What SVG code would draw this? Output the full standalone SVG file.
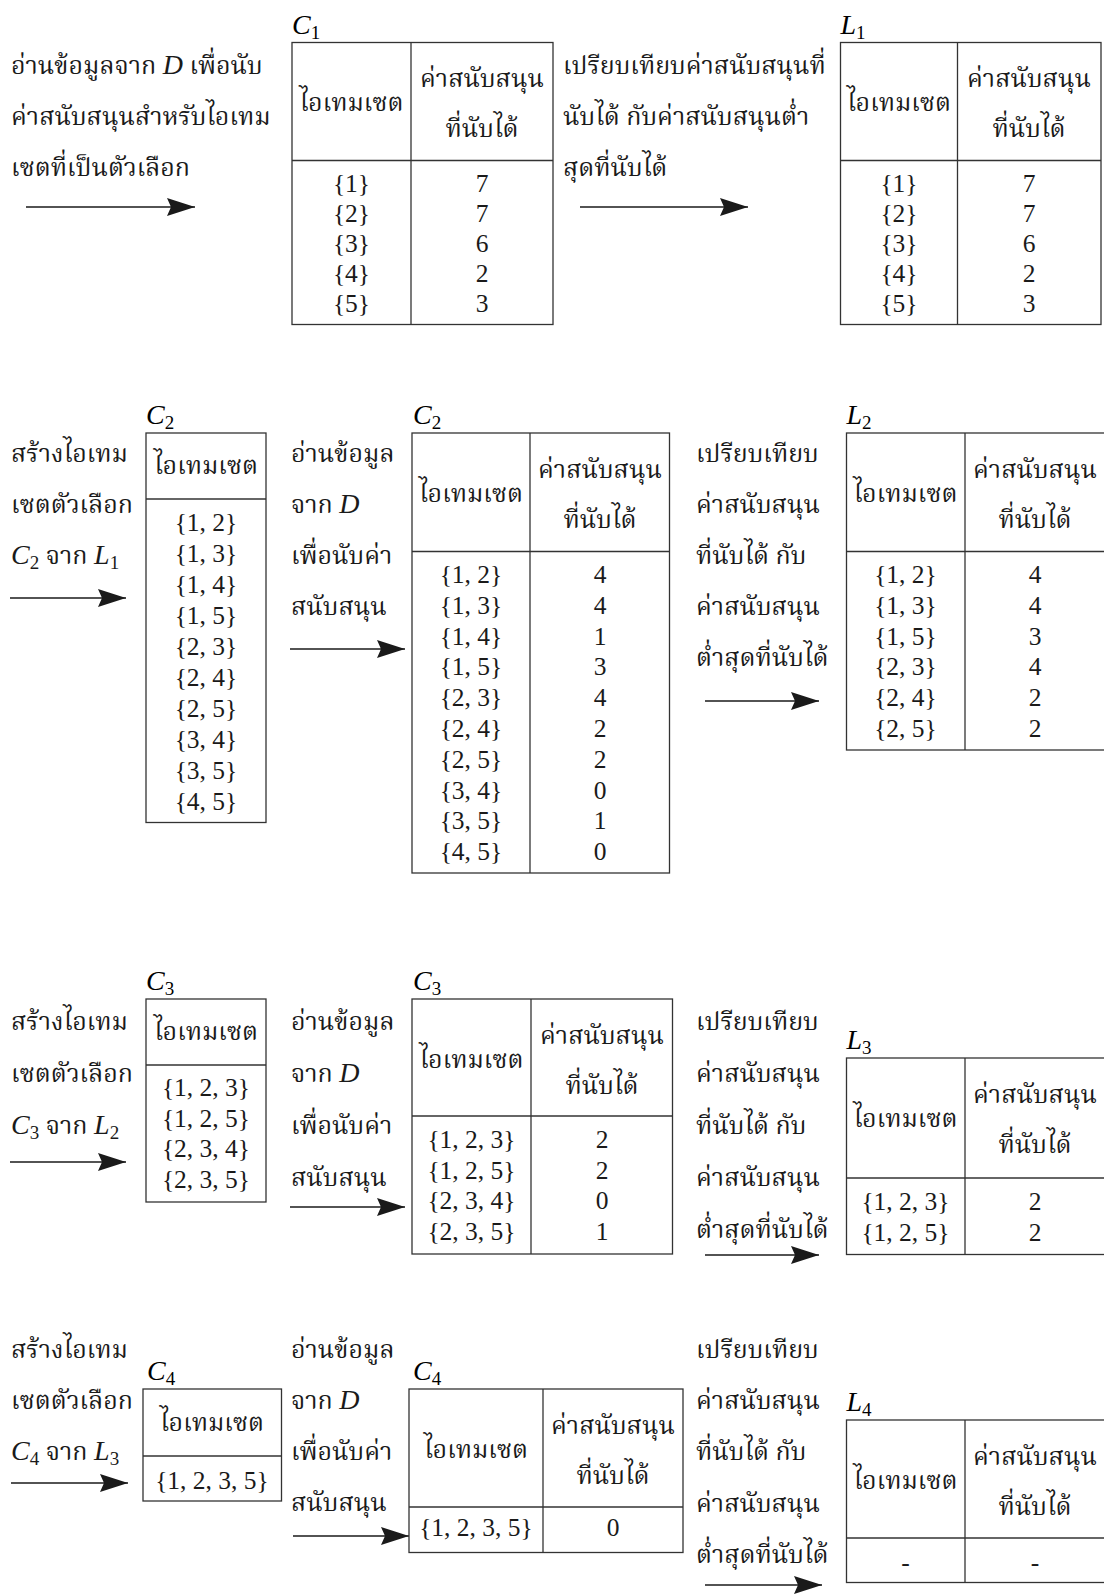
<svg xmlns="http://www.w3.org/2000/svg" width="1104" height="1596" viewBox="0 0 1104 1596">
  <style>
    .th { font-family: "Laksaman", "Norasi", "Noto Serif Thai", "Noto Sans Thai Looped", "Noto Sans Thai", "Noto Sans", sans-serif; font-size: 25px; fill: #1a1a1a; }
    .num { font-family: "Liberation Serif", "Times New Roman", serif; font-size: 25.5px; fill: #1a1a1a; }
    .it { font-family: "Liberation Serif", "Times New Roman", serif; font-style: italic; font-size: 28px; }
    .sub { font-family: "Liberation Serif", "Times New Roman", serif; font-style: normal; font-size: 19px; }
    .mid { text-anchor: middle; }
    .box { fill: #fff; stroke: #333; stroke-width: 1.3; }
    .rule { stroke: #333; stroke-width: 1.3; }
    .arrow { stroke: #1a1a1a; stroke-width: 1.3; fill: none; marker-end: url(#head); }
  </style>
  <defs>
    <marker id="head" markerUnits="userSpaceOnUse" markerWidth="29" markerHeight="19" refX="28" refY="9" orient="auto">
      <path d="M0,0 L28,9 L0,18 L4,9 Z" fill="#1a1a1a"/>
    </marker>
  </defs>

  <rect width="1104" height="1596" fill="#fff"/>

  <!-- connectors -->
  <g id="connectors">
    <line class="arrow" x1="26" y1="207" x2="195" y2="207"/>
    <line class="arrow" x1="580" y1="207" x2="748" y2="207"/>
    <line class="arrow" x1="10" y1="598" x2="126" y2="598"/>
    <line class="arrow" x1="290" y1="649" x2="405" y2="649"/>
    <line class="arrow" x1="705" y1="701" x2="819" y2="701"/>
    <line class="arrow" x1="10" y1="1162" x2="126" y2="1162"/>
    <line class="arrow" x1="290" y1="1207" x2="405" y2="1207"/>
    <line class="arrow" x1="705" y1="1255" x2="819" y2="1255"/>
    <line class="arrow" x1="11" y1="1483" x2="128" y2="1483"/>
    <line class="arrow" x1="293" y1="1536" x2="409" y2="1536"/>
    <line class="arrow" x1="705" y1="1585" x2="822" y2="1585"/>
  </g>

  <!-- step captions -->
  <g id="step-read-1" class="th">
    <text x="11" y="74">อ่านข้อมูลจาก <tspan class="it" font-size="25">D</tspan> เพื่อนับ</text>
    <text x="11" y="125">ค่าสนับสนุนสำหรับไอเทม</text>
    <text x="11" y="176">เซตที่เป็นตัวเลือก</text>
  </g>
  <g id="step-compare-1" class="th">
    <text x="563" y="74">เปรียบเทียบค่าสนับสนุนที่</text>
    <text x="563" y="125">นับได้ กับค่าสนับสนุนต่ำ</text>
    <text x="563" y="176">สุดที่นับได้</text>
  </g>

  <g id="step-gen-2" class="th">
    <text x="11" y="462">สร้างไอเทม</text>
    <text x="11" y="513">เซตตัวเลือก</text>
    <text x="11" y="564"><tspan class="it">C</tspan><tspan class="sub" dy="5">2</tspan><tspan dy="-5"> จาก </tspan><tspan class="it">L</tspan><tspan class="sub" dy="5">1</tspan></text>
  </g>
  <g id="step-read-2" class="th">
    <text x="291" y="462">อ่านข้อมูล</text>
    <text x="291" y="513">จาก <tspan class="it" font-size="25">D</tspan></text>
    <text x="291" y="564">เพื่อนับค่า</text>
    <text x="291" y="615">สนับสนุน</text>
  </g>
  <g id="step-compare-2" class="th">
    <text x="696" y="462">เปรียบเทียบ</text>
    <text x="696" y="513">ค่าสนับสนุน</text>
    <text x="696" y="564">ที่นับได้ กับ</text>
    <text x="696" y="615">ค่าสนับสนุน</text>
    <text x="696" y="666">ต่ำสุดที่นับได้</text>
  </g>

  <g id="step-gen-3" class="th">
    <text x="11" y="1030">สร้างไอเทม</text>
    <text x="11" y="1082">เซตตัวเลือก</text>
    <text x="11" y="1134"><tspan class="it">C</tspan><tspan class="sub" dy="5">3</tspan><tspan dy="-5"> จาก </tspan><tspan class="it">L</tspan><tspan class="sub" dy="5">2</tspan></text>
  </g>
  <g id="step-read-3" class="th">
    <text x="291" y="1030">อ่านข้อมูล</text>
    <text x="291" y="1082">จาก <tspan class="it" font-size="25">D</tspan></text>
    <text x="291" y="1134">เพื่อนับค่า</text>
    <text x="291" y="1186">สนับสนุน</text>
  </g>
  <g id="step-compare-3" class="th">
    <text x="696" y="1030">เปรียบเทียบ</text>
    <text x="696" y="1082">ค่าสนับสนุน</text>
    <text x="696" y="1134">ที่นับได้ กับ</text>
    <text x="696" y="1186">ค่าสนับสนุน</text>
    <text x="696" y="1238">ต่ำสุดที่นับได้</text>
  </g>

  <g id="step-gen-4" class="th">
    <text x="11" y="1358">สร้างไอเทม</text>
    <text x="11" y="1409">เซตตัวเลือก</text>
    <text x="11" y="1460"><tspan class="it">C</tspan><tspan class="sub" dy="5">4</tspan><tspan dy="-5"> จาก </tspan><tspan class="it">L</tspan><tspan class="sub" dy="5">3</tspan></text>
  </g>
  <g id="step-read-4" class="th">
    <text x="291" y="1358">อ่านข้อมูล</text>
    <text x="291" y="1409">จาก <tspan class="it" font-size="25">D</tspan></text>
    <text x="291" y="1460">เพื่อนับค่า</text>
    <text x="291" y="1511">สนับสนุน</text>
  </g>
  <g id="step-compare-4" class="th">
    <text x="696" y="1358">เปรียบเทียบ</text>
    <text x="696" y="1409">ค่าสนับสนุน</text>
    <text x="696" y="1460">ที่นับได้ กับ</text>
    <text x="696" y="1512">ค่าสนับสนุน</text>
    <text x="696" y="1563">ต่ำสุดที่นับได้</text>
  </g>

  <!-- C1 -->
  <g id="C1">
    <text x="292" y="33.5" class="it">C<tspan class="sub" dy="5">1</tspan></text>
    <rect class="box" x="292" y="42.5" width="261" height="282"/>
    <line class="rule" x1="292" y1="160.5" x2="553" y2="160.5"/>
    <line class="rule" x1="411" y1="42.5" x2="411" y2="324.5"/>
    <text class="th mid" x="351.5" y="111">ไอเทมเซต</text>
    <text class="th mid" x="482" y="87">ค่าสนับสนุน</text>
    <text class="th mid" x="482" y="137">ที่นับได้</text>
    <g class="num mid">
      <text x="351.5" y="191.5">{1}</text><text x="482" y="191.5">7</text>
      <text x="351.5" y="221.5">{2}</text><text x="482" y="221.5">7</text>
      <text x="351.5" y="251.5">{3}</text><text x="482" y="251.5">6</text>
      <text x="351.5" y="281.5">{4}</text><text x="482" y="281.5">2</text>
      <text x="351.5" y="311.5">{5}</text><text x="482" y="311.5">3</text>
    </g>
  </g>

  <!-- L1 -->
  <g id="L1">
    <text x="840.5" y="33.5" class="it">L<tspan class="sub" dy="5">1</tspan></text>
    <rect class="box" x="840.5" y="42.5" width="260.5" height="282"/>
    <line class="rule" x1="840.5" y1="160.5" x2="1101" y2="160.5"/>
    <line class="rule" x1="957.5" y1="42.5" x2="957.5" y2="324.5"/>
    <text class="th mid" x="899" y="111">ไอเทมเซต</text>
    <text class="th mid" x="1029" y="87">ค่าสนับสนุน</text>
    <text class="th mid" x="1029" y="137">ที่นับได้</text>
    <g class="num mid">
      <text x="899" y="191.5">{1}</text><text x="1029" y="191.5">7</text>
      <text x="899" y="221.5">{2}</text><text x="1029" y="221.5">7</text>
      <text x="899" y="251.5">{3}</text><text x="1029" y="251.5">6</text>
      <text x="899" y="281.5">{4}</text><text x="1029" y="281.5">2</text>
      <text x="899" y="311.5">{5}</text><text x="1029" y="311.5">3</text>
    </g>
  </g>

  <!-- C2 candidates -->
  <g id="C2-gen">
    <text x="146" y="424" class="it">C<tspan class="sub" dy="5">2</tspan></text>
    <rect class="box" x="146" y="433" width="120" height="389.5"/>
    <line class="rule" x1="146" y1="499" x2="266" y2="499"/>
    <text class="th mid" x="206" y="474">ไอเทมเซต</text>
    <g class="num mid">
      <text x="206" y="531">{1, 2}</text>
      <text x="206" y="562">{1, 3}</text>
      <text x="206" y="593">{1, 4}</text>
      <text x="206" y="624">{1, 5}</text>
      <text x="206" y="655">{2, 3}</text>
      <text x="206" y="686">{2, 4}</text>
      <text x="206" y="717">{2, 5}</text>
      <text x="206" y="748">{3, 4}</text>
      <text x="206" y="779">{3, 5}</text>
      <text x="206" y="810">{4, 5}</text>
    </g>
  </g>

  <!-- C2 counted -->
  <g id="C2-count">
    <text x="413" y="424" class="it">C<tspan class="sub" dy="5">2</tspan></text>
    <rect class="box" x="412" y="433" width="257.5" height="440"/>
    <line class="rule" x1="412" y1="551.5" x2="669.5" y2="551.5"/>
    <line class="rule" x1="530" y1="433" x2="530" y2="873"/>
    <text class="th mid" x="471" y="501.5">ไอเทมเซต</text>
    <text class="th mid" x="600" y="477.5">ค่าสนับสนุน</text>
    <text class="th mid" x="600" y="527.5">ที่นับได้</text>
    <g class="num mid">
      <text x="471" y="583">{1, 2}</text><text x="600" y="583">4</text>
      <text x="471" y="614">{1, 3}</text><text x="600" y="614">4</text>
      <text x="471" y="644.5">{1, 4}</text><text x="600" y="644.5">1</text>
      <text x="471" y="675">{1, 5}</text><text x="600" y="675">3</text>
      <text x="471" y="706">{2, 3}</text><text x="600" y="706">4</text>
      <text x="471" y="737">{2, 4}</text><text x="600" y="737">2</text>
      <text x="471" y="768">{2, 5}</text><text x="600" y="768">2</text>
      <text x="471" y="798.5">{3, 4}</text><text x="600" y="798.5">0</text>
      <text x="471" y="829">{3, 5}</text><text x="600" y="829">1</text>
      <text x="471" y="860">{4, 5}</text><text x="600" y="860">0</text>
    </g>
  </g>

  <!-- L2 -->
  <g id="L2">
    <text x="846.5" y="424" class="it">L<tspan class="sub" dy="5">2</tspan></text>
    <rect class="box" x="846.5" y="433" width="260" height="317"/>
    <line class="rule" x1="846.5" y1="551.5" x2="1106" y2="551.5"/>
    <line class="rule" x1="965" y1="433" x2="965" y2="750"/>
    <text class="th mid" x="905.5" y="501.5">ไอเทมเซต</text>
    <text class="th mid" x="1035" y="477.5">ค่าสนับสนุน</text>
    <text class="th mid" x="1035" y="527.5">ที่นับได้</text>
    <g class="num mid">
      <text x="905.5" y="583">{1, 2}</text><text x="1035" y="583">4</text>
      <text x="905.5" y="614">{1, 3}</text><text x="1035" y="614">4</text>
      <text x="905.5" y="644.5">{1, 5}</text><text x="1035" y="644.5">3</text>
      <text x="905.5" y="675">{2, 3}</text><text x="1035" y="675">4</text>
      <text x="905.5" y="706">{2, 4}</text><text x="1035" y="706">2</text>
      <text x="905.5" y="737">{2, 5}</text><text x="1035" y="737">2</text>
    </g>
  </g>

  <!-- C3 candidates -->
  <g id="C3-gen">
    <text x="146" y="990" class="it">C<tspan class="sub" dy="5">3</tspan></text>
    <rect class="box" x="146" y="999" width="120" height="203"/>
    <line class="rule" x1="146" y1="1065" x2="266" y2="1065"/>
    <text class="th mid" x="206" y="1040">ไอเทมเซต</text>
    <g class="num mid">
      <text x="206" y="1096">{1, 2, 3}</text>
      <text x="206" y="1126.5">{1, 2, 5}</text>
      <text x="206" y="1157">{2, 3, 4}</text>
      <text x="206" y="1188">{2, 3, 5}</text>
    </g>
  </g>

  <!-- C3 counted -->
  <g id="C3-count">
    <text x="413" y="990" class="it">C<tspan class="sub" dy="5">3</tspan></text>
    <rect class="box" x="412" y="999" width="260.5" height="255"/>
    <line class="rule" x1="412" y1="1116" x2="672.5" y2="1116"/>
    <line class="rule" x1="531" y1="999" x2="531" y2="1254"/>
    <text class="th mid" x="471.5" y="1067.5">ไอเทมเซต</text>
    <text class="th mid" x="602" y="1043.5">ค่าสนับสนุน</text>
    <text class="th mid" x="602" y="1093.5">ที่นับได้</text>
    <g class="num mid">
      <text x="471.5" y="1148">{1, 2, 3}</text><text x="602" y="1148">2</text>
      <text x="471.5" y="1178.5">{1, 2, 5}</text><text x="602" y="1178.5">2</text>
      <text x="471.5" y="1209">{2, 3, 4}</text><text x="602" y="1209">0</text>
      <text x="471.5" y="1240">{2, 3, 5}</text><text x="602" y="1240">1</text>
    </g>
  </g>

  <!-- L3 -->
  <g id="L3">
    <text x="846.5" y="1049" class="it">L<tspan class="sub" dy="5">3</tspan></text>
    <rect class="box" x="846.5" y="1058" width="260" height="196.5"/>
    <line class="rule" x1="846.5" y1="1178" x2="1106" y2="1178"/>
    <line class="rule" x1="965" y1="1058" x2="965" y2="1254.5"/>
    <text class="th mid" x="905.5" y="1126.5">ไอเทมเซต</text>
    <text class="th mid" x="1035" y="1102.5">ค่าสนับสนุน</text>
    <text class="th mid" x="1035" y="1152.5">ที่นับได้</text>
    <g class="num mid">
      <text x="905.5" y="1210">{1, 2, 3}</text><text x="1035" y="1210">2</text>
      <text x="905.5" y="1241">{1, 2, 5}</text><text x="1035" y="1241">2</text>
    </g>
  </g>

  <!-- C4 candidates -->
  <g id="C4-gen">
    <text x="147" y="1380" class="it">C<tspan class="sub" dy="5">4</tspan></text>
    <rect class="box" x="143" y="1389" width="138.5" height="112"/>
    <line class="rule" x1="143" y1="1456" x2="281.5" y2="1456"/>
    <text class="th mid" x="212" y="1430.5">ไอเทมเซต</text>
    <text class="num mid" x="212" y="1489">{1, 2, 3, 5}</text>
  </g>

  <!-- C4 counted -->
  <g id="C4-count">
    <text x="413" y="1380" class="it">C<tspan class="sub" dy="5">4</tspan></text>
    <rect class="box" x="409" y="1389" width="274" height="163.5"/>
    <line class="rule" x1="409" y1="1507" x2="683" y2="1507"/>
    <line class="rule" x1="543" y1="1389" x2="543" y2="1552.5"/>
    <text class="th mid" x="476" y="1457.5">ไอเทมเซต</text>
    <text class="th mid" x="613" y="1433.5">ค่าสนับสนุน</text>
    <text class="th mid" x="613" y="1483.5">ที่นับได้</text>
    <text class="num mid" x="476" y="1536">{1, 2, 3, 5}</text>
    <text class="num mid" x="613" y="1536">0</text>
  </g>

  <!-- L4 -->
  <g id="L4">
    <text x="846.5" y="1411" class="it">L<tspan class="sub" dy="5">4</tspan></text>
    <rect class="box" x="846.5" y="1420" width="260" height="162.5"/>
    <line class="rule" x1="846.5" y1="1538" x2="1106" y2="1538"/>
    <line class="rule" x1="965" y1="1420" x2="965" y2="1582.5"/>
    <text class="th mid" x="905.5" y="1488.5">ไอเทมเซต</text>
    <text class="th mid" x="1035" y="1464.5">ค่าสนับสนุน</text>
    <text class="th mid" x="1035" y="1514.5">ที่นับได้</text>
    <text class="num mid" x="905.5" y="1571">-</text>
    <text class="num mid" x="1035" y="1571">-</text>
  </g>
</svg>
